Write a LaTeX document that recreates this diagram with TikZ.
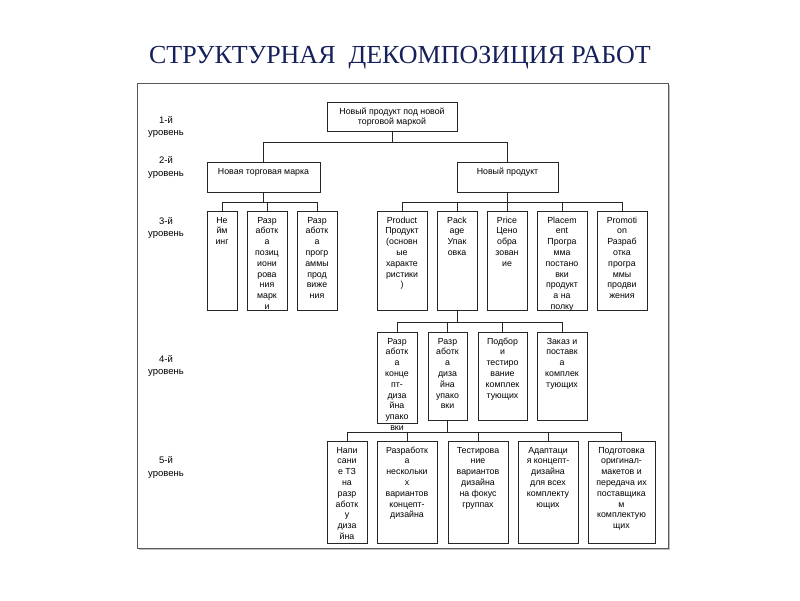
\documentclass[tikz,border=0pt]{standalone}
\usepackage{fontspec}
\setmainfont{Liberation Sans}
\newfontfamily\titlefont{Liberation Serif}
\definecolor{titleblue}{RGB}{22,32,90}
\newcommand\wbox[6]{\node[wbox] (#1) at ({(#2+#3)/2},{(#4+#5)/2}) {\parbox[c][\dimexpr#5pt-#4pt\relax][t]{\dimexpr#3pt-#2pt\relax}{\centering\rule{0pt}{12pt}#6\par}};}
\begin{document}
\begin{tikzpicture}[x=1pt,y=-1pt,
  wbox/.style={draw=black!85, line width=0.7pt, inner sep=0pt, outer sep=0pt, font=\fontsize{8.8}{10.8}\selectfont},
  conn/.style={draw=black!85, line width=0.7pt},
  lvl/.style={align=center, font=\fontsize{9.5}{12.5}\selectfont, inner sep=0pt}]
\useasboundingbox (0,0) rectangle (800,600);
% title
\node[anchor=base, inner sep=0pt, text=titleblue, font=\titlefont\fontsize{26}{30}\selectfont] (title) at (400,63) {СТРУКТУРНАЯ\ \ ДЕКОМПОЗИЦИЯ РАБОТ};
% frame
\fill[black!25] (139,85) rectangle (670,550);
\draw[fill=white, draw=black!65, line width=0.8pt] (137,83) rectangle (668,548);
% level labels
\node[lvl] (l1) at (166,127) {1-й\\уровень};
\node[lvl] (l2) at (166,167.5) {2-й\\уровень};
\node[lvl] (l3) at (166,228) {3-й\\уровень};
\node[lvl] (l4) at (166,366) {4-й\\уровень};
\node[lvl] (l5) at (166,467.5) {5-й\\уровень};
% level 1
\wbox{t}{327}{457}{102}{131}{Новый продукт под новой\\торговой маркой}
% level 2
\wbox{a}{207}{320}{162}{192}{Новая торговая марка}
\wbox{b}{457}{558}{162}{192}{Новый продукт}
% level 3
\wbox{n1}{207}{237}{211}{310}{Не\\йм\\инг}
\wbox{n2}{247}{287}{211}{310}{Разр\\аботк\\а\\позиц\\иони\\рова\\ния\\марк\\и}
\wbox{n3}{297}{337}{211}{310}{Разр\\аботк\\а\\прогр\\аммы\\прод\\виже\\ния}
\wbox{p1}{377}{427}{211}{310}{Product\\Продукт\\(основн\\ые\\характе\\ристики\\)}
\wbox{p2}{437}{477}{211}{310}{Pack\\age\\Упак\\овка}
\wbox{p3}{487}{527}{211}{310}{Price\\Цено\\обра\\зован\\ие}
\wbox{p4}{537}{587}{211}{310}{Placem\\ent\\Програ\\мма\\постано\\вки\\продукт\\а на\\полку}
\wbox{p5}{597}{647}{211}{310}{Promoti\\on\\Разраб\\отка\\програ\\ммы\\продви\\жения}
% level 4
\wbox{q1}{377}{417}{332}{423}{Разр\\аботк\\а\\конце\\пт-\\диза\\йна\\упако\\вки}
\wbox{q2}{428}{467}{332}{420}{Разр\\аботк\\а\\диза\\йна\\упако\\вки}
\wbox{q3}{478}{527}{332}{420}{Подбор\\и\\тестиро\\вание\\комплек\\тующих}
\wbox{q4}{537}{587}{332}{420}{Заказ и\\поставк\\а\\комплек\\тующих}
% level 5
\wbox{r1}{327}{367}{441}{543}{Напи\\сани\\е ТЗ\\на\\разр\\аботк\\у\\диза\\йна}
\wbox{r2}{377}{437}{441}{543}{Разработк\\а\\нескольки\\х\\вариантов\\концепт-\\дизайна}
\wbox{r3}{448}{508}{441}{543}{Тестирова\\ние\\вариантов\\дизайна\\на фокус\\группах}
\wbox{r4}{518}{578}{441}{543}{Адаптаци\\я концепт-\\дизайна\\для всех\\комплекту\\ющих}
\wbox{r5}{588}{655}{441}{543}{Подготовка\\оригинал-\\макетов и\\передача их\\поставщика\\м\\комплектую\\щих}
% buses
\coordinate (b1) at (0,142);
\coordinate (b2) at (0,202);
\coordinate (b4) at (0,322);
\coordinate (b5) at (0,432);
% connectors
\draw[conn] (t.south) -- (t.south |- b1);
\draw[conn] (a.north) |- (b.north |- b1) -- (b.north);
\draw[conn] (a.south) -- (a.south |- b2);
\draw[conn] (n1.north) |- (n3.north |- b2) -- (n3.north);
\draw[conn] (n2.north) -- (n2.north |- b2);
\draw[conn] (b.south) -- (b.south |- b2);
\draw[conn] (p1.north) |- (p5.north |- b2) -- (p5.north);
\foreach \n in {p2,p3,p4} \draw[conn] (\n.north) -- (\n.north |- b2);
\draw[conn] (p2.south) -- (p2.south |- b4);
\draw[conn] (q1.north) |- (q4.north |- b4) -- (q4.north);
\foreach \n in {q2,q3} \draw[conn] (\n.north) -- (\n.north |- b4);
\draw[conn] (q2.south) -- (q2.south |- b5);
\draw[conn] (r1.north) |- (r5.north |- b5) -- (r5.north);
\foreach \n in {r2,r3,r4} \draw[conn] (\n.north) -- (\n.north |- b5);
\end{tikzpicture}
\end{document}
